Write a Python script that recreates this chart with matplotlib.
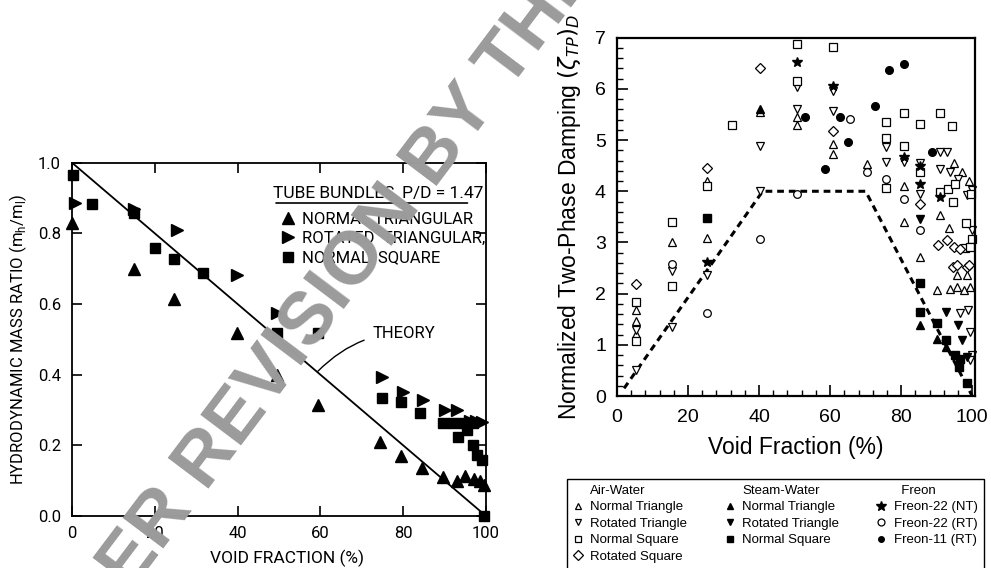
import matplotlib.pyplot as plt
from matplotlib.lines import Line2D
from matplotlib.ticker import MultipleLocator, FormatStrFormatter

# ---- left panel: hydrodynamic mass ratio vs void fraction ----
nt_void = [0, 15, 24.7, 39.8, 49.4, 59.5, 74.5, 79.5, 84.5, 89.5, 93, 95, 97, 98.6, 99.5]
nt_mass = [0.828, 0.70, 0.613, 0.517, 0.399, 0.314, 0.21, 0.17, 0.135, 0.11, 0.10, 0.112, 0.104, 0.10, 0.088]

rt_void = [0.7, 15, 25.3, 39.8, 49.4, 74.8, 80, 84.9, 90.1, 92.9, 96.1, 97.7, 99]
rt_mass = [0.885, 0.87, 0.809, 0.682, 0.574, 0.394, 0.352, 0.328, 0.30, 0.30, 0.27, 0.268, 0.267]

ns_void = [0.3, 4.9, 15, 20, 24.7, 31.6, 49.4, 59.5, 74.8, 79.4, 84, 89.7, 92.1, 94.5,
           93.3, 96.9, 95.3, 96.9, 97.8, 99, 99.5]
ns_mass = [0.965, 0.883, 0.858, 0.76, 0.727, 0.689, 0.519, 0.517, 0.333, 0.322, 0.293, 0.262,
           0.262, 0.262, 0.223, 0.262, 0.243, 0.20, 0.173, 0.158, 0.0]

theory_void = [0, 100]
theory_mass = [1.0, 0.0]

# ---- right panel: normalized two-phase damping ----
aw_nt_x = [5.3, 5.3, 5.3, 15.5, 25.3, 25.3, 40.3, 50.6, 50.6, 60.9, 60.9, 70.3, 75.7, 80.7, 80.7,
           85.4, 90.8, 90.2, 93.6, 93.8, 95.0, 95.7, 95.7, 97.1, 97.6, 98.5, 99.0, 99.4]
aw_nt_y = [1.68, 1.46, 1.22, 3.0, 4.21, 3.09, 5.54, 5.45, 5.30, 4.93, 4.72, 4.54, 4.13, 4.10, 3.40,
           2.72, 3.53, 2.08, 3.29, 2.10, 4.55, 2.13, 2.36, 4.37, 2.08, 2.36, 4.21, 2.13]

aw_rt_x = [5.3, 5.3, 15.5, 15.5, 25.3, 40.3, 40.3, 50.6, 50.6, 60.9, 60.9, 75.7, 75.7, 80.7, 85.4,
           85.4, 90.8, 90.9, 92.8, 93.8, 96.0, 98.6, 99.9, 99.9, 96.6, 98.7, 99.5, 99.9, 99.3]
aw_rt_y = [1.28, 0.5, 2.44, 1.35, 2.36, 4.88, 4.0, 6.04, 5.61, 5.96, 5.56, 4.86, 4.57, 4.57, 4.55,
           3.95, 4.44, 4.76, 4.76, 4.37, 4.24, 3.92, 4.02, 3.25, 1.62, 1.68, 1.25, 0.8, 0.70]

aw_ns_x = [5.3, 5.3, 15.5, 15.5, 25.3, 32.5, 50.6, 50.6, 60.9, 75.7, 75.7, 75.7, 80.7, 80.7, 85.4,
           85.4, 90.8, 94.3, 91.0, 93.3, 95.2, 94.6, 98.3, 99.9, 98.0, 99.5, 99.6]
aw_ns_y = [1.84, 1.08, 3.39, 2.15, 4.11, 5.30, 6.87, 6.16, 6.81, 5.35, 5.04, 4.07, 5.52, 4.89, 5.31,
           4.37, 5.52, 5.28, 3.98, 4.05, 4.15, 3.79, 3.38, 3.07, 2.90, 2.92, 3.95]

aw_rs_x = [5.3, 25.3, 40.3, 60.9, 85.4, 90.5, 92.9, 94.9, 96.6, 94.5, 95.7, 98.5, 99.2]
aw_rs_y = [2.18, 4.45, 6.40, 5.17, 3.76, 2.96, 3.04, 2.92, 2.88, 2.52, 2.55, 2.52, 2.55]

sw_nt_x = [40.3, 85.4, 90.2, 92.7]
sw_nt_y = [5.61, 1.38, 1.12, 0.95]

sw_rt_x = [85.4, 92.7, 95.9, 97.1, 98.5]
sw_rt_y = [3.46, 1.64, 1.38, 1.09, 0.76]

sw_ns_x = [25.3, 85.4, 85.4, 90.2, 92.7, 95.2, 96.6, 96.4, 98.5]
sw_ns_y = [3.48, 2.21, 1.64, 1.43, 1.09, 0.80, 0.73, 0.57, 0.25]

f22nt_x = [25.3, 50.6, 60.9, 80.7, 85.4, 90.8, 85.4]
f22nt_y = [2.62, 6.52, 6.06, 4.67, 4.15, 3.89, 4.50]

f22rt_x = [15.5, 25.3, 40.3, 50.6, 65.6, 70.3, 75.7, 80.7, 85.4]
f22rt_y = [2.57, 1.62, 3.07, 3.95, 5.41, 4.37, 4.23, 3.85, 3.24]

f11rt_x = [53.0, 58.6, 62.8, 64.9, 72.5, 76.7, 80.8, 88.6]
f11rt_y = [5.46, 4.44, 5.46, 4.96, 5.67, 6.37, 6.48, 4.76]

bound_x = [2, 41, 70, 100]
bound_y = [0.15, 4.0, 4.0, 0.0]

narrow = ['Roboto', 'DejaVu Sans']
helv = ['Liberation Sans', 'DejaVu Sans']

fig = plt.figure(figsize=(9.91, 5.68), dpi=100)

# ---------------- left panel ----------------
ax1 = fig.add_axes([0.0727, 0.0915, 0.4177, 0.622])
ax1.plot(theory_void, theory_mass, color='black', lw=1.3)
ax1.plot(nt_void, nt_mass, ls='none', marker='^', ms=8, color='black', clip_on=False)
ax1.plot(rt_void, rt_mass, ls='none', marker='>', ms=8, color='black', clip_on=False)
ax1.plot(ns_void, ns_mass, ls='none', marker='s', ms=7.5, color='black', clip_on=False)
ax1.set_xlim(0, 100)
ax1.set_ylim(0, 1.0)
ax1.xaxis.set_major_locator(MultipleLocator(20))
ax1.yaxis.set_major_locator(MultipleLocator(0.2))
ax1.yaxis.set_major_formatter(FormatStrFormatter('%.1f'))
ax1.tick_params(direction='in', length=7, width=1.2, top=True, right=True, labelsize=12)
ax1.tick_params(axis='y', pad=8)
ax1.tick_params(axis='x', pad=7)
for lab in ax1.get_xticklabels() + ax1.get_yticklabels():
    lab.set_family(narrow)
for sp in ax1.spines.values():
    sp.set_linewidth(1.3)
ax1.set_xlabel('VOID FRACTION (%)', family=narrow, fontsize=12.5)
ax1.xaxis.set_label_coords(0.52, -0.096)
ax1.set_ylabel(r'HYDRODYNAMIC MASS RATIO (m$_\mathregular{h}$/m$_\mathregular{l}$)',
               family=narrow, fontsize=12)
ax1.yaxis.set_label_coords(-0.105, 0.5)

ax1.text(0.486, 0.914, 'TUBE BUNDLES, P/D = 1.47', transform=ax1.transAxes,
         family=narrow, fontsize=12.5, ha='left', va='center')
ax1.annotate('', xy=(0.486, 0.886), xytext=(0.962, 0.886), xycoords='axes fraction',
             arrowprops=dict(arrowstyle='-', lw=1.2, color='black'))
h1 = [Line2D([], [], ls='none', marker='^', ms=8, color='black'),
      Line2D([], [], ls='none', marker='>', ms=8, color='black'),
      Line2D([], [], ls='none', marker='s', ms=7.5, color='black')]
ax1.legend(h1, ['NORMAL TRIANGULAR', 'ROTATED  TRIANGULAR,', 'NORMAL  SQUARE'],
           loc='upper left', bbox_to_anchor=(0.478, 0.894), frameon=False,
           prop={'family': narrow, 'size': 12},
           handlelength=0.8, handletextpad=0.45, labelspacing=0.26, borderpad=0.2)
ax1.annotate('THEORY', xy=(59.4, 0.41), xytext=(72.5, 0.518), family=narrow, fontsize=12,
             va='center', ha='left',
             arrowprops=dict(arrowstyle='-', lw=1.0, color='black', shrinkA=4, shrinkB=0,
                             connectionstyle='angle3,angleA=0,angleB=45'))

# ---------------- right panel ----------------
ax2 = fig.add_axes([0.6226, 0.3028, 0.3613, 0.6308])
ms = 5.5
open_kw = dict(ls='none', mfc='white', mec='black', mew=0.9, ms=ms, clip_on=False)
fill_kw = dict(ls='none', color='black', ms=ms, clip_on=False)
ax2.plot(bound_x, bound_y, ls=(0, (2.2, 1.6)), color='black', lw=2.2)
ax2.plot(aw_nt_x, aw_nt_y, marker='^', **open_kw)
ax2.plot(aw_rt_x, aw_rt_y, marker='v', **open_kw)
ax2.plot(aw_ns_x, aw_ns_y, marker='s', **open_kw)
ax2.plot(aw_rs_x, aw_rs_y, marker='D', **open_kw)
ax2.plot(f22rt_x, f22rt_y, marker='o', **open_kw)
ax2.plot(sw_nt_x, sw_nt_y, marker='^', **fill_kw)
ax2.plot(sw_rt_x, sw_rt_y, marker='v', **fill_kw)
ax2.plot(sw_ns_x, sw_ns_y, marker='s', **fill_kw)
ax2.plot(f22nt_x, f22nt_y, marker='*', ls='none', color='black', ms=7, clip_on=False)
ax2.plot(f11rt_x, f11rt_y, marker='o', **fill_kw)
ax2.set_xlim(0, 100.8)
ax2.set_ylim(0, 7)
ax2.xaxis.set_major_locator(MultipleLocator(20))
ax2.xaxis.set_minor_locator(MultipleLocator(4))
ax2.yaxis.set_major_locator(MultipleLocator(1))
ax2.yaxis.set_minor_locator(MultipleLocator(0.2))
ax2.tick_params(which='major', direction='in', length=8, width=1.2, labelsize=14)
ax2.tick_params(which='minor', direction='in', length=4, width=1.0)
ax2.tick_params(axis='y', pad=8)
ax2.tick_params(axis='x', pad=9)
for lab in ax2.get_xticklabels() + ax2.get_yticklabels():
    lab.set_family(helv)
for sp in ax2.spines.values():
    sp.set_linewidth(1.6)
ax2.set_xlabel('Void Fraction (%)', family=helv, fontsize=16.5)
ax2.xaxis.set_label_coords(0.5, -0.112)
ax2.set_ylabel(r'Normalized Two-Phase Damping $(\zeta_{TP})_D$', family=helv, fontsize=16.5)
ax2.yaxis.set_label_coords(-0.095, 0.5)

# legend box below right panel
blank = Line2D([], [], ls='none')
def om(m):
    return Line2D([], [], marker=m, ls='none', mfc='white', mec='black', mew=0.9, ms=5)
def fm(m, s=5):
    return Line2D([], [], marker=m, ls='none', color='black', ms=s)
handles = [blank, om('^'), om('v'), om('s'), om('D'),
           blank, fm('^'), fm('v'), fm('s'), blank,
           blank, fm('*', 7), om('o'), fm('o', 4), blank]
labels = ['Air-Water', 'Normal Triangle', 'Rotated Triangle', 'Normal Square', 'Rotated Square',
          'Steam-Water', 'Normal Triangle', 'Rotated Triangle', 'Normal Square', '',
          '  Freon', 'Freon-22 (NT)', 'Freon-22 (RT)', 'Freon-11 (RT)', '']
fig.legend(handles, labels, ncol=3, loc='upper left', bbox_to_anchor=(560 / 991, 1 - 472 / 568),
           prop={'family': helv, 'size': 9.5}, frameon=True, fancybox=False, framealpha=1,
           edgecolor='black', handlelength=0.8, handletextpad=0.55, columnspacing=2.8,
           labelspacing=0.32, borderpad=0.45)

# grey watermark
fig.text(0.352, 0.525, 'ER REVISION BY THE', family=helv, fontweight='bold', fontsize=54,
         color='#9b9b9b', rotation=53, ha='center', va='center', rotation_mode='anchor')

fig.savefig('out.png', dpi=100)
plt.close(fig)
